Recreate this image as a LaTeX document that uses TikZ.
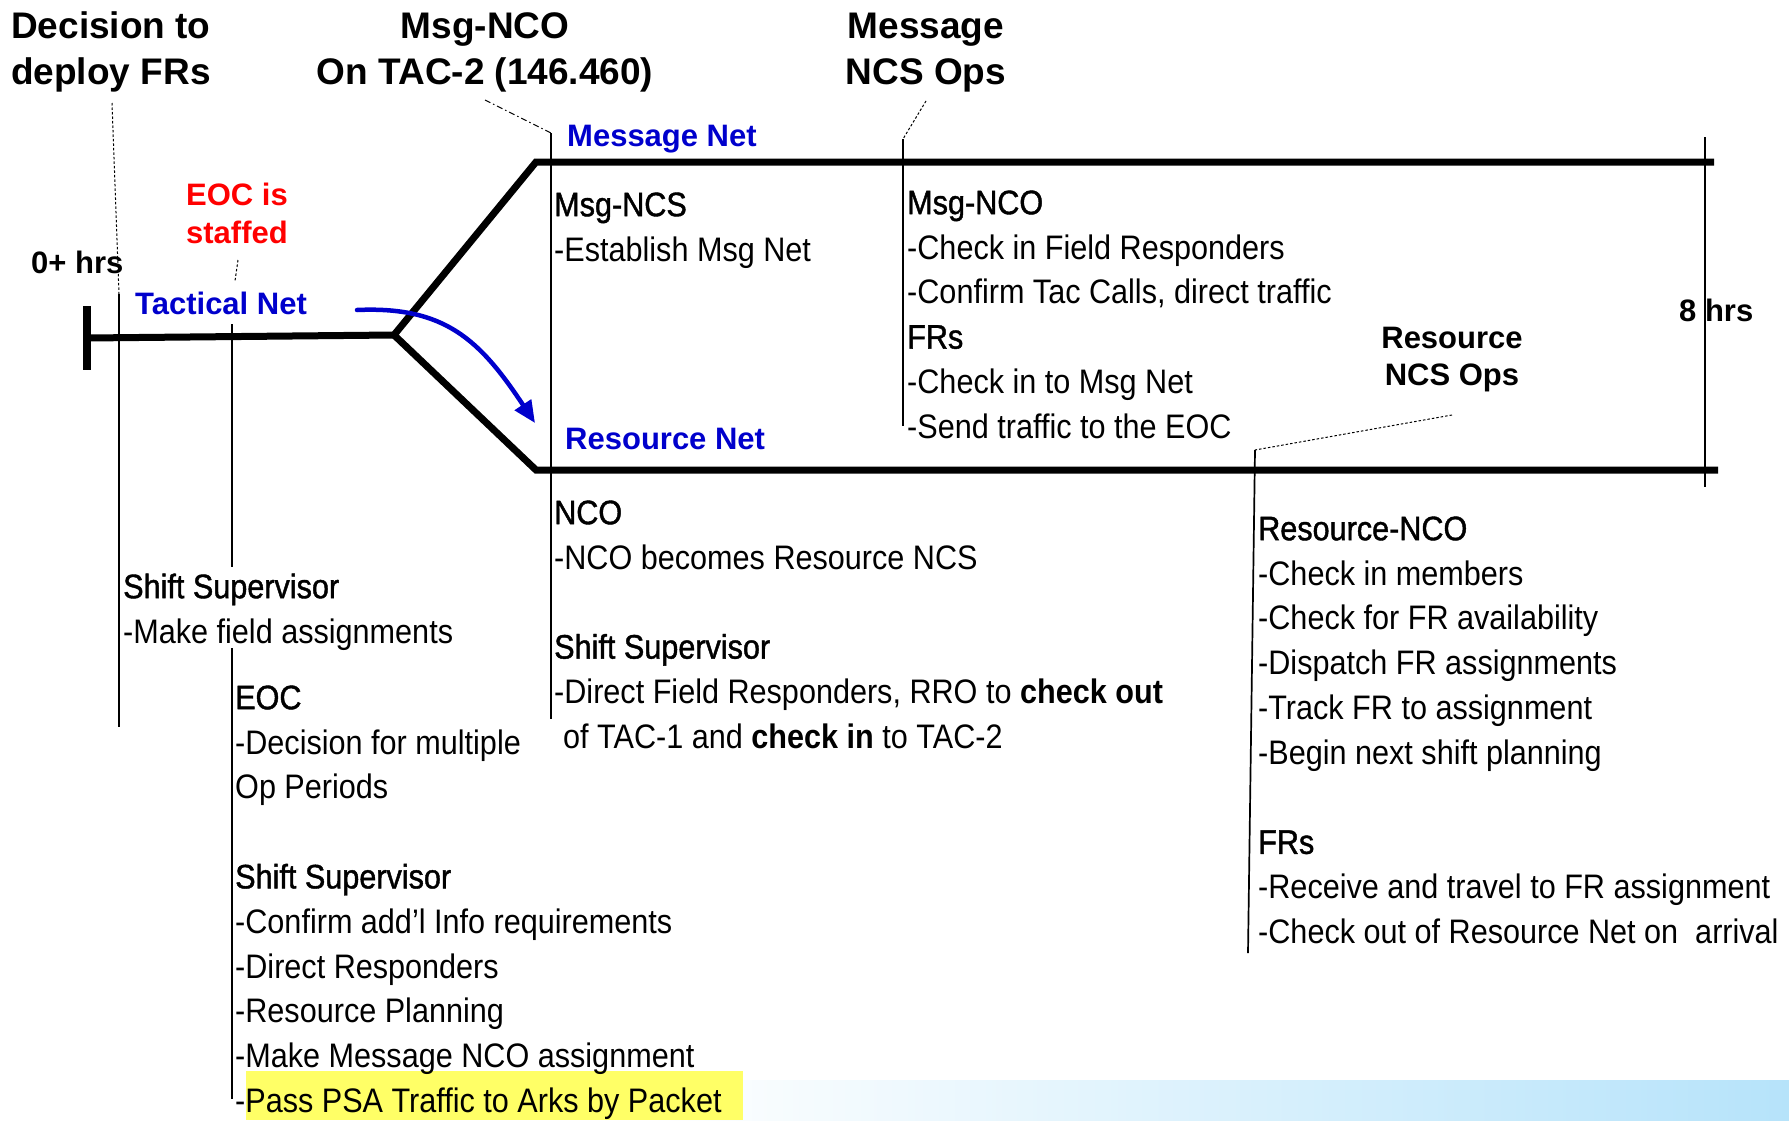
\documentclass[tikz,border=0pt]{standalone}
\usepackage{fontspec}
\setmainfont{Liberation Sans}
\newfontfamily\bodyfont{Liberation Sans}[FakeStretch=0.9]
\newfontfamily\hdfont{Liberation Sans}[FakeStretch=0.9,FakeBold=1.2]
\usetikzlibrary{arrows.meta}
\definecolor{netblue}{RGB}{0,0,204}
\definecolor{hiyel}{RGB}{255,255,102}
\definecolor{bandblue}{RGB}{182,227,250}
\newcommand\firstln{\rule{0pt}{26pt}}
\newcommand\firstbig{\rule{0pt}{28pt}}
\newcommand\firstlbl{\rule{0pt}{24pt}}
\begin{document}
\begin{tikzpicture}[x=1pt,y=-1pt,
  netline/.style={line width=7pt},
  leader/.style={line width=1.7pt},
  dleader/.style={line width=1pt, dash pattern=on 2.5pt off 2pt},
  ddleader/.style={line width=1pt, dash pattern=on 6pt off 3pt on 1.5pt off 3pt},
  bigbold/.style={font=\bfseries\fontsize{37}{46}\selectfont, inner sep=0pt},
  lbl/.style={font=\bfseries\fontsize{31}{38}\selectfont, inner sep=0pt},
  bodyblk/.style={anchor=north west, inner sep=0pt, align=left, font=\bodyfont\fontsize{34}{44.8}\selectfont},
]
\useasboundingbox (0,0) rectangle (1789,1120);
% background band and highlight
\shade[left color=white, right color=bandblue] (650,1080) rectangle (1789,1120);
\fill[hiyel] (246,1071) rectangle (743,1120);

% net lines
\coordinate (tacL) at (87,338);
\coordinate (junc) at (394,335);
\coordinate (msgL) at (536,162);
\coordinate (msgR) at (1714,162);
\coordinate (resL) at (536,470);
\coordinate (resR) at (1718,470);
\coordinate (barT) at (87,306);
\coordinate (barB) at (87,370);
\draw[line width=8pt] (barT) -- (barB);
\draw[netline] (tacL) -- (junc);
\draw[netline, line join=miter] (msgR) -- (msgL) -- (junc) -- (resL) -- (resR);

% leader lines
\coordinate (decA) at (112,103);
\coordinate (decB) at (119,294);
\coordinate (decC) at (119,727);
\draw[dleader] (decA) -- (decB);
\draw[leader] (decB) -- (decC);

\coordinate (eocA) at (238,260);
\coordinate (eocB) at (235,281);
\draw[dleader] (eocA) -- (eocB);
\coordinate (tacA) at (232,324);
\coordinate (tacB) at (232,567);
\draw[leader] (tacA) -- (tacB);
\coordinate (eocC) at (232,648);
\coordinate (eocD) at (232,1099);
\draw[leader] (eocC) -- (eocD);

\coordinate (tacTwoA) at (485,100);
\coordinate (tacTwoB) at (551,133);
\coordinate (tacTwoC) at (551,719);
\draw[ddleader] (tacTwoA) -- (tacTwoB);
\draw[leader] (tacTwoB) -- (tacTwoC);

\coordinate (mncsA) at (926,101);
\coordinate (mncsB) at (903,139);
\coordinate (mncsC) at (903,426);
\draw[dleader] (mncsA) -- (mncsB);
\draw[leader] (mncsB) -- (mncsC);

\coordinate (rncsA) at (1452,415);
\coordinate (rncsB) at (1255,450);
\coordinate (rncsC) at (1248,953);
\draw[dleader] (rncsA) -- (rncsB);
\draw[leader] (rncsB) -- (rncsC);

\coordinate (eightA) at (1705,137);
\coordinate (eightB) at (1705,487);
\draw[leader] (eightA) -- (eightB);

% blue arrow
\coordinate (arrS) at (357,310);
\coordinate (arrE) at (535,423);
\draw[netblue, line width=4.5pt, line cap=round, -{Triangle[length=22pt,width=19pt]}]
  (arrS) .. controls (445,306) and (480,340) .. (arrE);

% header labels
\node[bigbold, anchor=north west, align=left] (decision) at (11,10) {\firstbig Decision to\\deploy FRs};
\node[bigbold, anchor=north, align=center] (msgnco) at (485,10) {\firstbig Msg-NCO\\On TAC-2 (146.460)};
\node[bigbold, anchor=north, align=center] (msgops) at (926,10) {\firstbig Message\\NCS Ops};

% net labels
\node[lbl, text=netblue, anchor=base west] (msgnet) at (567,146) {Message Net};
\node[lbl, text=netblue, anchor=base west] (tacnet) at (135,314) {Tactical Net};
\node[lbl, text=netblue, anchor=base west] (resnet) at (565,449) {Resource Net};
\node[lbl, text=red, anchor=north, align=center] (eoc) at (237,181) {\firstlbl EOC is\\staffed};
\node[lbl, anchor=base west] (zero) at (31,273) {0+ hrs};
\node[lbl, anchor=base west] (eight) at (1679,321) {8 hrs};
\node[lbl, anchor=north, align=center, font=\bfseries\fontsize{31}{37}\selectfont] (resops) at (1452,324) {\firstlbl Resource\\NCS Ops};

% body blocks
\node[bodyblk] (blkA) at (554,190) {\firstln{\hdfont Msg-NCS}\\-Establish Msg Net};
\node[bodyblk] (blkB) at (907,188) {\firstln{\hdfont Msg-NCO}\\-Check in Field Responders\\-Confirm Tac Calls, direct traffic\\{\hdfont FRs}\\-Check in to Msg Net\\-Send traffic to the EOC};
\node[bodyblk] (blkC) at (554,498) {\firstln{\hdfont NCO}\\-NCO becomes Resource NCS\\[44.8pt]{\hdfont Shift Supervisor}\\-Direct Field Responders, RRO to \textbf{check out}\\\hspace*{9pt}of TAC-1 and \textbf{check in} to TAC-2};
\node[bodyblk] (blkD) at (123,572) {\firstln{\hdfont Shift Supervisor}\\-Make field assignments};
\node[bodyblk] (blkE) at (235,683) {\firstln{\hdfont EOC}\\-Decision for multiple\\Op Periods\\[44.8pt]{\hdfont Shift Supervisor}\\-Confirm add’l Info requirements\\-Direct Responders\\-Resource Planning\\-Make Message NCO assignment\\-Pass PSA Traffic to Arks by Packet};
\node[bodyblk] (blkF) at (1258,514) {\firstln{\hdfont Resource-NCO}\\-Check in members\\-Check for FR availability\\-Dispatch FR assignments\\-Track FR to assignment\\-Begin next shift planning\\[44.8pt]{\hdfont FRs}\\-Receive and travel to FR assignment\\-Check out of Resource Net on\ \ arrival};
\end{tikzpicture}
\end{document}
